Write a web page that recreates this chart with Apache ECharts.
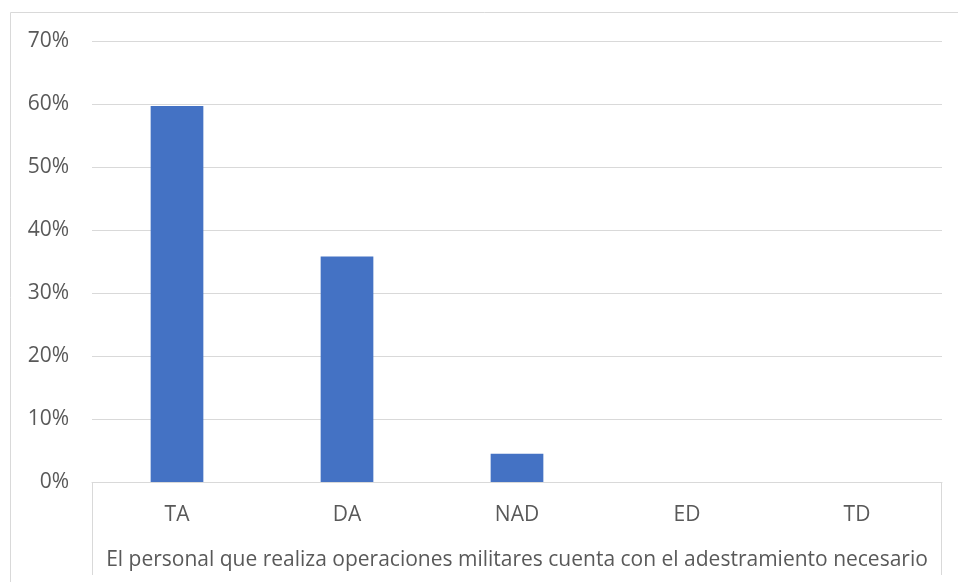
<!DOCTYPE html>
<html><head><meta charset="utf-8">
<script src="https://cdn.jsdelivr.net/npm/echarts@6/dist/echarts.min.js"></script>
<style>html,body{margin:0;padding:0;background:#fff}#c{width:958px;height:582px}</style>
</head><body><div id="c"></div>
<script>
const categories = ['TA', 'DA', 'NAD', 'ED', 'TD'];
const values = [59.7, 35.8, 4.5, 0, 0];
const axisTitle = 'El personal que realiza operaciones militares cuenta con el adestramiento necesario';
const yMax = 70, yStep = 10;

const FONT = 'Open Sans';
const chart = echarts.init(document.getElementById('c'), null, {renderer: 'canvas'});
chart.setOption({
  animation: false,
  textStyle: {fontFamily: FONT},
  grid: {left: 92, right: 16, top: 41, bottom: 100},
  xAxis: {
    type: 'category', data: categories,
    axisLine: {lineStyle: {color: '#d9d9d9', width: 1}},
    axisTick: {show: false},
    axisLabel: {color: '#595959', fontSize: 21, margin: 23, fontFamily: FONT},
    name: axisTitle, nameLocation: 'middle', nameGap: 68,
    nameTextStyle: {color: '#595959', fontSize: 21, fontFamily: FONT}
  },
  yAxis: {
    type: 'value', min: 0, max: yMax, interval: yStep,
    axisLine: {show: false}, axisTick: {show: false},
    axisLabel: {color: '#595959', fontSize: 21, margin: 23, fontFamily: FONT, formatter: v => v + '%'},
    splitLine: {lineStyle: {color: '#d9d9d9', width: 1}}
  },
  series: [{
    type: 'bar', data: values, barWidth: '31%',
    itemStyle: {color: '#4472c4'}
  }],
  graphic: [
    {type: 'polyline', shape: {points: [[10.5, 582], [10.5, 12.5], [958, 12.5]]}, style: {stroke: '#d9d9d9', lineWidth: 1, fill: null}, silent: true},
    {type: 'line', shape: {x1: 92.5, y1: 482, x2: 92.5, y2: 575}, style: {stroke: '#d9d9d9', lineWidth: 1}, silent: true},
    {type: 'line', shape: {x1: 941.5, y1: 482, x2: 941.5, y2: 575}, style: {stroke: '#d9d9d9', lineWidth: 1}, silent: true}
  ]
});
</script></body></html>
